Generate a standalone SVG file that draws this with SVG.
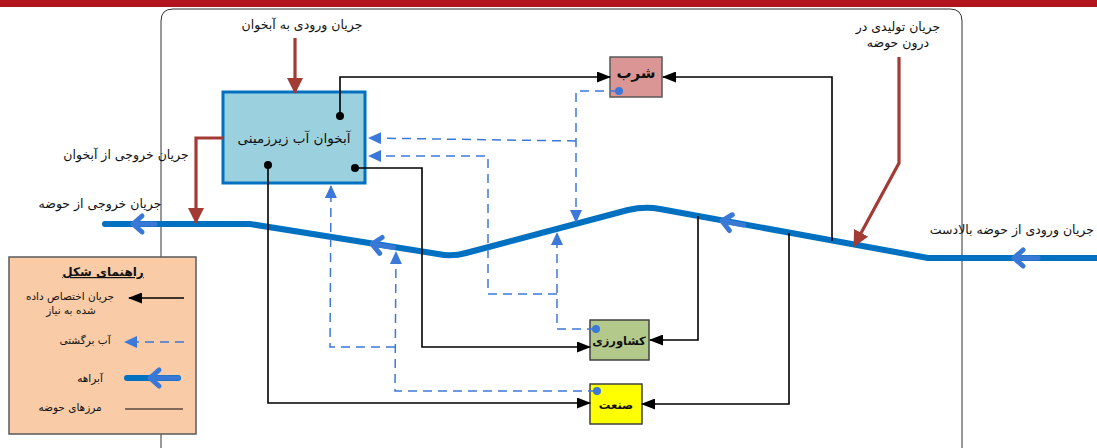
<svg xmlns="http://www.w3.org/2000/svg" width="1097" height="448" viewBox="0 0 1097 448">
<style>
text{font-family:"DejaVu Sans","Noto Sans",sans-serif;fill:#111;}
.lbl{font-size:12.5px;}
.lg{font-size:10.5px;}
.blk{fill:none;stroke:#000;stroke-width:1.6;}
.dash{fill:none;stroke:#3C78D8;stroke-width:1.5;stroke-dasharray:9,6;}
.red{fill:none;stroke:#A33B35;stroke-width:3.2;}
.river{fill:none;stroke:#0070C0;stroke-width:6;stroke-linejoin:round;stroke-linecap:round;}
.chev{fill:none;stroke:#3A78D6;stroke-width:5;stroke-linecap:round;stroke-linejoin:round;}
.dot{fill:#000;}
.bdot{fill:#3C78D8;}
</style>
<defs>
<marker id="ab" viewBox="0 0 14 11" refX="13" refY="5.5" markerWidth="14" markerHeight="11" markerUnits="userSpaceOnUse" orient="auto"><path d="M0,0 L14,5.5 L0,11 z" fill="#000"/></marker>
<marker id="au" viewBox="0 0 13 12" refX="12" refY="6" markerWidth="13" markerHeight="12" markerUnits="userSpaceOnUse" orient="auto"><path d="M0,0 L13,6 L0,12 z" fill="#3C78D8"/></marker>
<marker id="ar" viewBox="0 0 16 16" refX="15" refY="8" markerWidth="16" markerHeight="16" markerUnits="userSpaceOnUse" orient="auto"><path d="M0,0 L16,8 L0,16 z" fill="#A33B35"/></marker>
</defs>
<rect x="0" y="0" width="1097" height="7" fill="#B3151E"/>
<path id="boundary" d="M161,450 L161,21 Q161,9 173,9 L950,9 Q962,9 962,21 L962,450" fill="none" stroke="#333" stroke-width="1"/>
<g id="river">
<path class="river" d="M105,224 L250,224 L438,254 Q452,257 466,253 L628,210 Q645,206 660,209 L928,258 L1100,258"/>
<g transform="translate(133,224)"><path class="chev" d="M0,0 L22,0 M9,-8 L0,0 L9,8"/></g>
<g transform="translate(372,244) rotate(9)"><path class="chev" d="M0,0 L22,0 M9,-8 L0,0 L9,8"/></g>
<g transform="translate(722,221) rotate(10.4)"><path class="chev" d="M0,0 L22,0 M9,-8 L0,0 L9,8"/></g>
<g transform="translate(1014,258)"><path class="chev" d="M0,0 L24,0 M9,-8 L0,0 L9,8"/></g>
</g>
<g id="aquifer">
<rect x="223" y="92" width="142" height="91" fill="#9BD0DE" stroke="#0070C0" stroke-width="3"/>
<text x="294" y="143" text-anchor="middle" font-size="13.5">آبخوان آب زیرزمینی</text>
</g>
<g id="drinking">
<rect x="610" y="57" width="52" height="40" fill="#D99694" stroke="#595959" stroke-width="1.5"/>
<text x="636" y="78" text-anchor="middle" font-size="15" font-weight="bold">شرب</text>
</g>
<g id="agriculture">
<rect x="590" y="320" width="59" height="40" fill="#B3C98B" stroke="#404040" stroke-width="1.5"/>
<text x="619" y="345" text-anchor="middle" font-size="11.5" font-weight="bold">کشاورزی</text>
</g>
<g id="industry">
<rect x="590" y="384" width="52" height="40" fill="#FFFF00" stroke="#404040" stroke-width="1.5"/>
<text x="616" y="409" text-anchor="middle" font-size="11.5" font-weight="bold">صنعت</text>
</g>
<g id="connectors">
<path class="blk" d="M340,116 L340,77 L610,77" marker-end="url(#ab)"/>
<path class="blk" d="M832,241 L832,77 L663,77" marker-end="url(#ab)"/>
<path class="blk" d="M355,168 L422,168 L422,347 L590,347" marker-end="url(#ab)"/>
<path class="blk" d="M268,165 L268,403 L590,403" marker-end="url(#ab)"/>
<path class="blk" d="M698,216 L698,340 L650,340" marker-end="url(#ab)"/>
<path class="blk" d="M789,233 L789,404 L642,404" marker-end="url(#ab)"/>
<circle class="dot" cx="340" cy="116" r="4"/>
<circle class="dot" cx="355" cy="168" r="4"/>
<circle class="dot" cx="268" cy="165" r="4"/>
<path class="dash" d="M619,91 L576,91 L576,222" marker-end="url(#au)"/>
<path class="dash" d="M576,141 L369,138" marker-end="url(#au)"/>
<path class="dash" d="M557,294 L488,294 L488,156 L369,156" marker-end="url(#au)"/>
<path class="dash" d="M596,329 L557,329 L557,233" marker-end="url(#au)"/>
<path class="dash" d="M597,391 L395,391 L396,252" marker-end="url(#au)"/>
<path class="dash" d="M395,347 L330,347 L331,186" marker-end="url(#au)"/>
<circle class="bdot" cx="619" cy="91" r="4"/>
<circle class="bdot" cx="596" cy="329" r="4"/>
<circle class="bdot" cx="597" cy="391" r="4"/>
<path class="red" d="M295,38 L295,93" marker-end="url(#ar)"/>
<path class="red" d="M223,138 L196,138 L196,223" marker-end="url(#ar)"/>
<path class="red" d="M899,57 L899,163 L854,246" marker-end="url(#ar)"/>
</g>
<g id="labels">
<text class="lbl" x="302" y="29" text-anchor="middle">جریان ورودی به آبخوان</text>
<text class="lbl" x="126" y="159" text-anchor="middle">جریان خروجی از آبخوان</text>
<text class="lbl" x="100" y="208" text-anchor="middle">جریان خروجی از حوضه</text>
<text class="lbl" x="898" y="31" text-anchor="middle">جریان تولیدی در</text>
<text class="lbl" x="898" y="47" text-anchor="middle">درون حوضه</text>
<text class="lbl" x="1094" y="234" text-anchor="end">جریان ورودی از حوضه بالادست</text>
</g>
<g id="legend">
<rect x="9" y="257" width="187" height="177" fill="#F9CBA7" stroke="#595959" stroke-width="1.5"/>
<text x="103" y="276" text-anchor="middle" font-size="12" font-weight="bold" text-decoration="underline">راهنمای شکل</text>
<text class="lg" x="70" y="300" text-anchor="middle">جریان اختصاص داده</text>
<text class="lg" x="71" y="314" text-anchor="middle">شده به نیاز</text>
<path class="blk" d="M184,298 L129,298" marker-end="url(#ab)"/>
<text class="lg" x="85" y="344" text-anchor="middle">آب برگشتی</text>
<path class="dash" d="M184,342 L125,342" marker-end="url(#au)"/>
<text class="lg" x="90" y="382" text-anchor="middle">آبراهه</text>
<path d="M127,378 L178,378" stroke="#0070C0" stroke-width="6" stroke-linecap="round"/>
<path class="chev" d="M150,378 L178,378 M159,370 L150,378 L159,386"/>
<text class="lg" x="70" y="411" text-anchor="middle">مرزهای حوضه</text>
<path d="M125,409 L183,409" stroke="#5A4A40" stroke-width="1.5"/>
</g>
</svg>
